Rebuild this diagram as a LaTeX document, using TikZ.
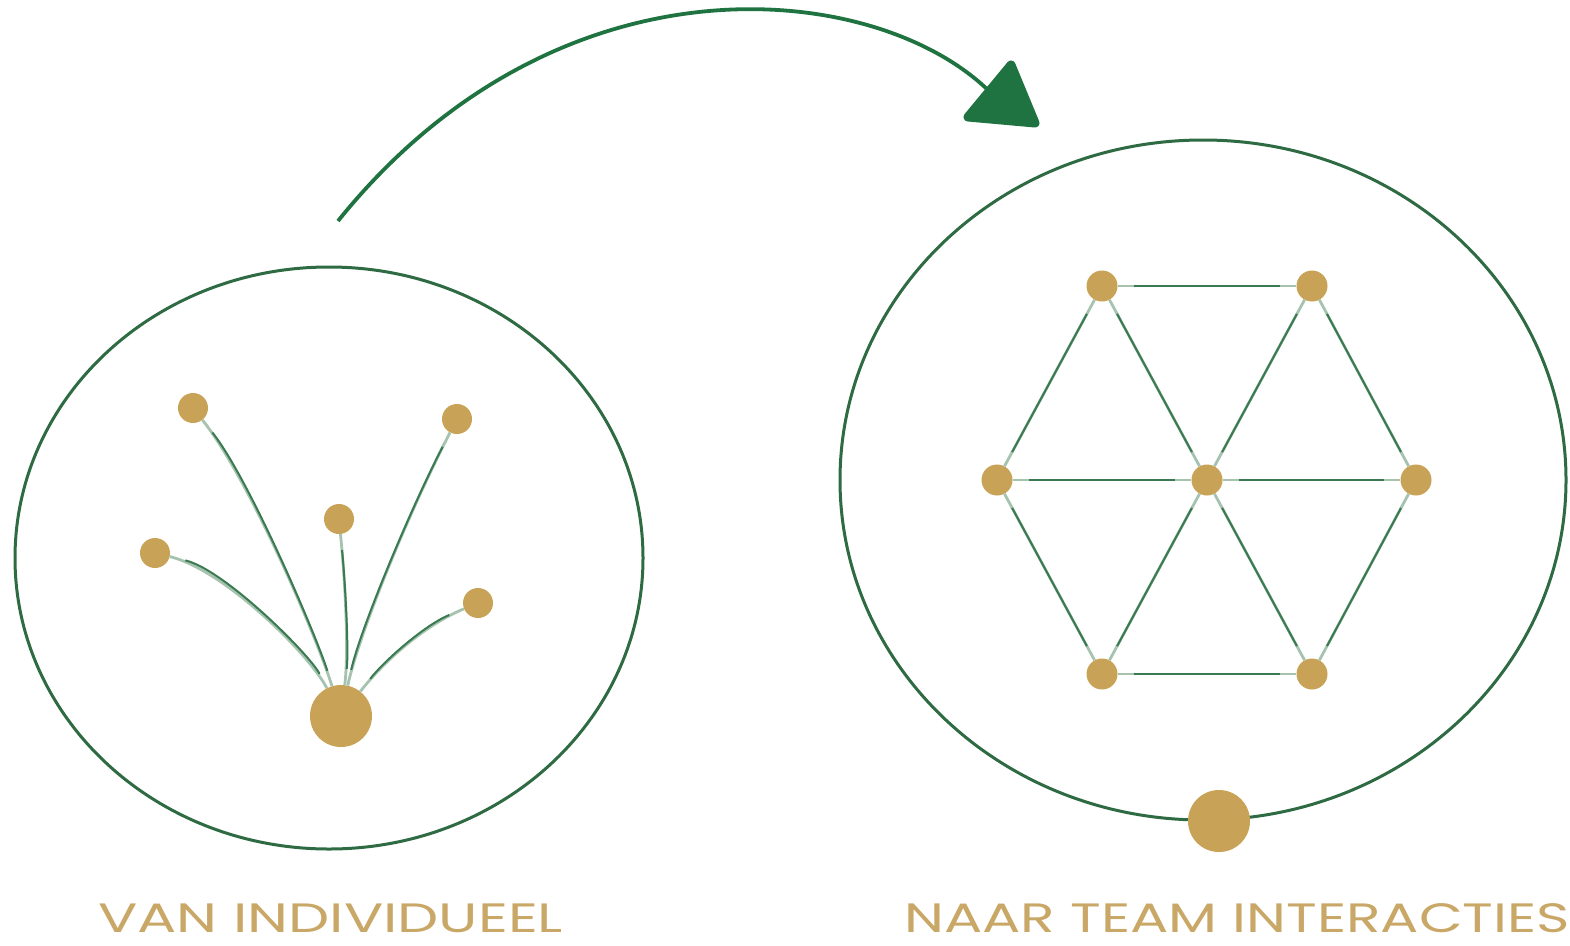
\documentclass[tikz,border=0pt]{standalone}
\usepackage{fontspec}
\setmainfont{Poppins}
\usetikzlibrary{shapes.geometric,arrows.meta}
\definecolor{ringgreen}{HTML}{2E6B43}
\definecolor{arrowgreen}{HTML}{1F7340}
\definecolor{linkgreen}{HTML}{3A7A50}
\definecolor{dotgold}{HTML}{C8A256}
\definecolor{textgold}{HTML}{C9A766}
\tikzset{
  ring/.style={draw=ringgreen, line width=3pt, ellipse, inner sep=0pt},
  dot/.style={circle, fill=dotgold, inner sep=0pt, minimum size=31pt},
  bigdot/.style={circle, fill=dotgold, inner sep=0pt, minimum size=62pt},
  link/.style={draw=linkgreen!45, line width=2.8pt},
  linkcore/.style={draw=linkgreen, line width=2pt, shorten <=16pt, shorten >=16pt},
  label/.style={text=textgold, font=\fontsize{41}{48}\selectfont, inner sep=0pt, anchor=base west},
  arrowhead/.style={fill=arrowgreen, draw=arrowgreen, line width=9pt, line join=round}
}
\begin{document}
\begin{tikzpicture}[x=1pt,y=-1pt]
\useasboundingbox (0,0) rectangle (1570,945);
\fill[white] (0,0) rectangle (1570,945);

% rings
\node[ring, minimum width=628pt, minimum height=582pt] (leftring) at (329,558) {};
\node[ring, minimum width=726pt, minimum height=680pt] (rightring) at (1203,480) {};

% left fan
\node[bigdot] (hub) at (341,716) {};
\node[dot, minimum size=30pt] (f1) at (193,408) {};
\node[dot, minimum size=30pt] (f2) at (457,419) {};
\node[dot, minimum size=30pt] (f3) at (339,519) {};
\node[dot, minimum size=30pt] (f4) at (155,553) {};
\node[dot, minimum size=30pt] (f5) at (478,603) {};

\foreach \n/\ca/\cb in {f1/{(318,640)}/{(250,480)}, f2/{(360,630)}/{(410,510)}, f3/{(349,650)}/{(345,580)}, f4/{(310,655)}/{(225,570)}, f5/{(385,660)}/{(425,625)}}{
  \draw[link] (hub) .. controls \ca and \cb .. (\n);
  \draw[linkcore] (hub) .. controls \ca and \cb .. (\n);
}

% right hexagon
\node[dot] (tl) at (1102,286) {};
\node[dot] (tr) at (1312,286) {};
\node[dot] (ml) at (997,480) {};
\node[dot] (mc) at (1207,480) {};
\node[dot] (mr) at (1416,480) {};
\node[dot] (bl) at (1102,674) {};
\node[dot] (br) at (1312,674) {};
\foreach \a/\b in {tl/tr, tl/ml, tl/mc, tr/mc, tr/mr, ml/mc, mc/mr, ml/bl, mc/bl, mc/br, mr/br, bl/br}{
  \draw[link] (\a) -- (\b);
  \draw[linkcore] (\a) -- (\b);
}
\node[bigdot] (anchorDot) at (1219,821) {};

% arrow
\coordinate (arrowStart) at (338,221);
\coordinate (arrowBase) at (992,94);
\coordinate (headTop) at (1011,65);
\coordinate (headTip) at (1035,123);
\coordinate (headLeft) at (968,117);
\draw[arrowgreen, line width=3.8pt] (arrowStart) .. controls (560,-55) and (880,-20) .. (arrowBase);
\filldraw[arrowhead] (headTop) -- (headTip) -- (headLeft) -- cycle;

% labels
\node[label] (lbl1) at (98,932) {\scalebox{1.42}[1]{VAN INDIVIDUEEL}};
\node[label] (lbl2) at (904,932) {\scalebox{1.385}[1]{NAAR TEAM INTERACTIES}};
\end{tikzpicture}
\end{document}
